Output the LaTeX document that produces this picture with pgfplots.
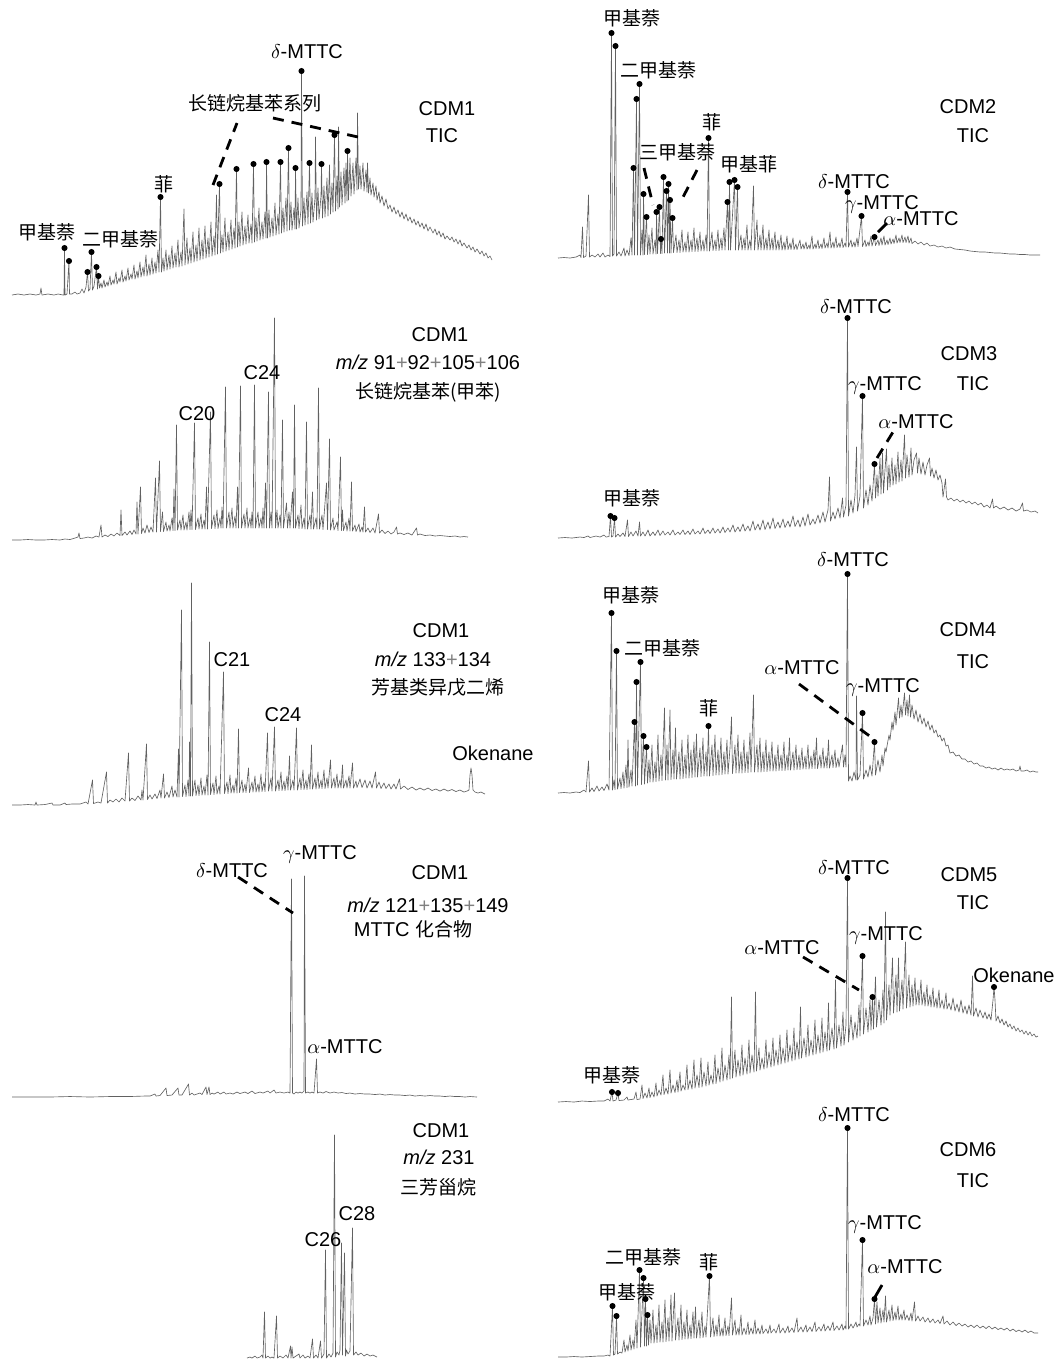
\documentclass[border=0pt]{standalone}
\usepackage{pgfplots}
\pgfplotsset{compat=1.18}
\usepackage{fontspec}
\setmainfont{Liberation Sans}
\newfontfamily\cjk[Scale=0.95]{Noto Sans CJK SC}
\pgfplotsset{
  tr/.style={black!62, line width=0.32pt, line join=round, mark=none},
  dots/.style={only marks, mark=*, mark size=1.3pt, black},
  dsh/.style={black, line width=1.4pt, dash pattern=on 5.5pt off 4pt, mark=none},
  sld/.style={black, line width=1.4pt, mark=none},
}
\newcommand{\pl}{{\color{gray}+}}
\begin{document}
\begin{tikzpicture}
\begin{axis}[x=0.5pt, y=0.5pt, xmin=0, xmax=1056, ymin=0, ymax=1360, y dir=reverse,
  hide axis, clip=false, anchor=north west, at={(0,0)},
  every node/.style={inner sep=0pt, font=\fontsize{8.3}{10}\selectfont}]
% ---------------- L1 CDM1 TIC
\addplot[tr] coordinates {(12,295)(18,294)(24,295)(30,294)(36,295)(40,294)(41,288)(42,295)(48,294)(54,295)(58,294)(63,295)(64,295)(64.5,248)(65,295)(67,294)(69,261)(69.5,294)(72,294)(75,292)(77,294)(80,293)(82,289)(84,293)(86,287)(87.5,272)(88.5,291)(90,289)(91.5,252)(92.5,290)(94,286)(96.5,267)(97.5,289)(98.5,276)(99.5,288)(101,283)(102,288)(104,280)(105,287)(107,282)(108,286)(110,276)(111,285)(113,280)(114,284)(116,272)(117,284)(119,278)(120,282)(122,270)(123,282)(125,276)(126,281)(128,268)(129,280)(131,274)(132,279)(134,265)(135,279)(137,271)(138,278)(140,262)(141,277)(143,267)(144,276)(146,255)(147,276)(149,264)(150,275)(152,258)(153,274)(155,262)(156,273)(158,250)(159,272)(160.5,197)(161.5,272)(163,258)(164,271)(166,250)(167,270)(169,255)(170,269)(172,246)(173,268)(175,253)(176,267)(178,240)(179,267)(181,252)(182,266)(184,209)(185,265)(187,238)(188,264)(190,248)(191,263)(193,232)(194,262)(196,245)(197,261)(199,228)(200,260)(202,240)(203,259)(205,226)(206,258)(208,238)(209,257)(211,222)(212,256)(214,236)(215,255)(216.5,195)(217.5,254)(219.5,184)(220.5,253)(222,235)(223,252)(225,218)(226,251)(228,232)(229,250)(231,220)(232,249)(234,228)(235,248)(236.5,169)(237.5,247)(239,222)(240,246)(242,212)(243,245)(245,226)(246,244)(248,215)(249,243)(251,224)(252,243)(253.5,164)(254.5,242)(256,218)(257,241)(259,208)(260,240)(262,222)(263,239)(265,212)(266,238)(266.5,162)(267.5,238)(269,210)(270,237)(272,218)(273,236)(275,203)(276,235)(278,214)(279,234)(280.5,162)(281.5,233)(283,208)(284,232)(286,198)(287,231)(288.5,148)(289.5,230)(291,202)(292,230)(294,208)(295,229)(295.5,168)(296.5,229)(298,198)(299,228)(301,210)(301.5,71)(302.5,226)(304,198)(305,225)(307,192)(308,224)(309.5,163)(310.5,223)(312,193)(313,222)(315,198)(315.5,137)(316.5,220)(318,188)(319,219)(321,196)(321.5,164)(322.5,218)(324,186)(325,217)(327,178)(328,216)(329.5,165)(330.5,214)(332,183)(333,212)(334.5,135)(335.5,211)(337,176)(338,209)(338.5,127)(339.5,207)(341,172)(342,205)(344,168)(345,203)(346,163)(347,201)(347.5,151)(348.5,200)(350,158)(351,196)(353,163)(354,194)(356,158)(357,190)(357.5,113)(358.5,189)(360,166)(361,189)(363,163)(364,191)(366,170)(367,192)(367.5,163)(368.5,193)(370,178)(371,195)(373,183)(374,197)(376,186)(377,200)(379,192)(380,203)(382,196)(384,206)(386,199)(388,209)(390,205)(392,212)(394,207)(396,214)(398,210)(400,217)(402,212)(404,219)(406,214)(408,221)(410,217)(412,223)(414,219)(416,225)(418,221)(420,227)(422,223)(424,229)(426,224)(428,231)(430,227)(433,233)(435,229)(437,235)(439,231)(441,237)(443,233)(445,239)(447,236)(450,240)(452,237)(454,242)(456,239)(458,244)(460,240)(462,246)(464,243)(467,248)(469,245)(471,250)(473,247)(475,252)(477,249)(480,254)(482,251)(484,256)(486,253)(488,258)(490,256)(492,260)};
\addplot[dots] coordinates {(64.5,248)(69,261)(87.5,272)(91.5,252)(96.5,267)(98.5,276)(160.5,197)(219.5,184)(236.5,169)(253.5,164)(266.5,162)(280.5,162)(288.5,148)(295.5,168)(309.5,163)(321.5,164)(334.5,135)(347.5,151)(301.5,71)};
\addplot[dsh] coordinates {(213,185)(237,123)};
\addplot[dsh] coordinates {(273,118)(358,137)};
\node at (axis cs:307,52) {$\delta$-MTTC};
\node at (axis cs:255,103) {\cjk 长链烷基苯系列};
\node at (axis cs:447,109) {CDM1};
\node at (axis cs:442,136) {TIC};
\node at (axis cs:164,184) {\cjk 菲};
\node at (axis cs:47,232) {\cjk 甲基萘};
\node at (axis cs:120,239) {\cjk 二甲基萘};
% ---------------- L2
\addplot[tr] coordinates {(12,540)(20,540)(28,539.5)(36,540)(44,540)(52,539.5)(60,540)(65,539)(70,539.5)(75,538)(78,537)(79,533)(80,538.5)(84,538)(88,537)(92,538)(96,536)(99,537)(101,525)(102,537)(105,535)(108,536.5)(111,534)(114,536)(117,533)(120,535.5)(121,510)(122,535.5)(125,532)(127,535)(130,531)(132,534.5)(134,530)(136,534)(137,502)(138,534)(140.5,487)(141.5,533.5)(143,528)(145,533)(147,525)(149,532.5)(151,527)(153,532)(155.5,478)(156.5,532)(159.5,461)(160.5,531.5)(162.5,512)(163.5,531.5)(166,522)(167,531)(169,525)(170,531)(172,518)(173,530.5)(174,489)(175,530.5)(176.5,425)(177.5,530)(180,520)(181,530)(183,515)(184,530)(186,522)(187,530)(189,512)(190,529.5)(191,510)(192,529.5)(194.5,423)(195.5,529.5)(198,518)(199,529)(201,514)(202,529)(204,520)(205,529)(206.5,487)(207.5,529)(210.5,412)(211.5,528.5)(214,515)(215,528.5)(217,510)(218,528.5)(220,518)(221,528)(222,507)(223,528)(225.5,387)(226.5,528)(229,512)(230,528)(232,508)(233,528)(235,516)(236,528)(237.5,487)(238.5,528)(240.5,386)(241.5,528)(244,514)(245,528)(247,508)(248,528)(250,518)(251,528)(252,512)(253,528)(254.5,385)(255.5,528)(258,512)(259,528)(261,518)(262,528)(263,508)(264,528)(265.5,483)(266.5,528)(268.5,392)(269.5,528)(271,512)(272,528)(274.5,318)(275.5,528)(277,510)(278,528)(280,515)(281,528)(282.5,420)(283.5,528)(286.5,503)(287.5,528)(289,512)(290,528)(292.5,492)(293.5,528)(294.5,405)(295.5,528)(298,515)(299,528.5)(301,505)(302,528.5)(304,518)(305,529)(306.5,422)(307.5,529)(310,515)(311,529)(312.5,492)(313.5,529)(316,518)(317,529)(318.5,388)(319.5,529)(322,515)(323,529.5)(326.5,483)(327.5,529.5)(329.5,439)(330.5,530)(333,518)(334,530)(337,522)(338,530.5)(340.5,457)(341.5,530.5)(342.5,510)(343.5,530.5)(346,522)(347,531)(349,518)(350,531)(351.5,482)(352.5,531)(355,525)(356,531.5)(359,524)(360,532)(362,527)(363,532)(364.5,507)(365.5,532)(368,528)(370,532.5)(373,528)(375,533)(378.5,514)(379.5,533)(382,530)(385,533.5)(388,531)(391,534)(394,532)(396.5,527)(397.5,534)(400,533)(404,534.5)(408,533)(412,535)(416.5,528)(417.5,535)(420,534)(425,535.5)(430,535)(435,536)(440,535.5)(445,536)(450,536.5)(455,536)(460,537)(464,536.5)(468,537)};
\node at (axis cs:440,335) {CDM1};
\node at (axis cs:428,362) {\textit{m/z} 91\pl92\pl105\pl106};
\node at (axis cs:428,392) {\cjk 长链烷基苯(甲苯)};
\node at (axis cs:197,414) {C20};
\node at (axis cs:262,373) {C24};
% ---------------- L3
\addplot[tr] coordinates {(12,805)(20,805)(28,804.5)(35,805)(36,802)(37,805)(45,804.5)(52,803)(53,805)(60,805)(65,803)(66,804.5)(72,804)(80,804)(86,802)(88,804)(92.5,780)(93.5,803.5)(98,802)(101,803)(106.5,772)(107.5,803)(110,800)(113,802)(116,799)(119,802)(122,798)(125,801)(128.5,753)(129.5,801)(132,798)(135,800.5)(138,796)(141,800)(142,790)(143,800)(146.5,744)(147.5,799.5)(150,795)(152,799)(155,794)(157,798.5)(160,790)(161,798)(163.5,774)(164.5,798)(167,792)(169,797.5)(172,786)(173,797)(175,790)(177,797)(178.5,749)(179,797)(181.5,610)(182.5,796.5)(185,785)(186,796.5)(188,780)(189,796)(189.5,742)(190.5,796)(191.5,583)(192.5,796)(195,780)(196,795.5)(198,785)(199,795.5)(201,778)(202,795)(204,786)(205,795)(207,775)(208,795)(209.5,642)(210.5,794.5)(213,783)(214,794.5)(216,776)(217,794)(219,786)(220,794)(223.5,672)(224.5,793.5)(227,782)(228,793.5)(230,775)(231,793)(233,785)(234,793)(236,778)(237,793)(238.5,729)(239.5,792.5)(242,780)(243,792.5)(245,784)(246,792.5)(248.5,768)(249.5,792.5)(252,782)(253,792)(255,776)(256,792)(258,784)(259,792)(261,774)(262,791.5)(264,782)(265,791.5)(267.5,733)(268.5,791)(271,778)(272,791)(274.5,727)(275.5,791)(278,780)(279,790.5)(281,772)(282,790.5)(284,781)(285,790.5)(287,776)(288,790)(289.5,756)(290.5,790)(293,780)(294,790)(296.5,728)(297.5,790)(300,778)(301,789.5)(303,770)(304,789.5)(306,780)(307,789.5)(309,774)(310,789)(311.5,745)(312.5,789)(315,778)(316,789)(318,772)(319,788.5)(321,780)(322,788.5)(324,770)(325,788.5)(327,778)(328,788)(330.5,760)(331.5,788)(334,778)(335,788)(337,774)(338,788)(340,780)(341,788)(342.5,765)(343.5,788)(346,780)(347,788)(349,776)(350,788)(352.5,763)(353.5,788)(356,781)(357,787.5)(360,779)(362,787.5)(365,780)(367,788)(370,781)(372,788)(375.5,772)(376.5,788)(379,782)(381,788.5)(384,783)(386,788.5)(389,784)(391,789)(394,784)(396,789)(399.5,779)(400.5,789)(404,786)(408,789.5)(412,787)(416,790)(420,788)(424,790)(428,788)(432,790.5)(436,789)(440,791)(444,789)(448,791)(452,789.5)(456,791.5)(460,790)(464,792)(467,791)(469,790)(470,775)(471,768)(472,775)(473,790)(475,792)(478,793)(481,792)(485,794)};
\node at (axis cs:441,631) {CDM1};
\node at (axis cs:433,659) {\textit{m/z} 133\pl134};
\node at (axis cs:438,687) {\cjk 芳基类异戊二烯};
\node at (axis cs:232,660) {C21};
\node at (axis cs:283,715) {C24};
\node at (axis cs:493,753) {Okenane};
% ---------------- L4
\addplot[tr] coordinates {(12,1097)(30,1097)(50,1097)(70,1096.5)(90,1097)(110,1096.5)(130,1096.5)(145,1096)(150,1096)(155,1094)(156,1096)(160,1095.5)(166,1088)(167,1095.5)(172,1095)(178,1088)(179,1095)(182,1095)(188.5,1084)(189.5,1095)(192,1093)(194,1095)(200,1093)(202,1094.5)(206,1087)(207,1094.5)(209,1087)(210,1094.5)(212,1093)(214,1094)(218,1092)(220,1094)(224,1092)(226,1094)(230,1093)(233,1094)(237,1092)(240,1093.5)(245,1092)(248,1093.5)(252,1091)(255,1093.5)(260,1092)(263,1093)(268,1091)(270,1093)(274,1090)(276,1093)(280,1092)(284,1093)(288,1092)(290,1093)(291.5,879)(292.5,1093)(294,1094)(296,1092)(298,1093)(300,1092)(302,1093)(304,1091)(304.5,876)(305.5,1093)(308,1092)(310,1093)(312,1092)(314,1093)(316.5,1059)(317.5,1093)(320,1092)(323,1093)(326,1091.5)(330,1093)(334,1092)(338,1093)(342,1092.5)(346,1093.5)(350,1093)(355,1094)(360,1093.5)(365,1094)(370,1094)(375,1094.5)(380,1094)(385,1095)(390,1094.5)(395,1095)(400,1095)(405,1095.5)(410,1095)(415,1096)(420,1095.5)(425,1096)(430,1095.5)(435,1096)(440,1096)(445,1096.5)(450,1096)(455,1096.5)(460,1096.5)(465,1097)(470,1096.5)(477,1097)};
\addplot[dsh] coordinates {(238,877)(293,913)};
\node at (axis cs:232,871) {$\delta$-MTTC};
\node at (axis cs:320,854) {$\gamma$-MTTC};
\node at (axis cs:440,873) {CDM1};
\node at (axis cs:428,905) {\textit{m/z} 121\pl135\pl149};
\node at (axis cs:413,929) {MTTC {\cjk 化合物}};
\node at (axis cs:345,1047) {$\alpha$-MTTC};
% ---------------- L5
\addplot[tr] coordinates {(247,1358)(250,1357)(252,1358)(255,1356)(257,1358)(260,1357)(262,1355)(263,1358)(264.5,1312)(265.5,1358)(268,1356)(270,1358)(272,1357)(274,1358)(276.5,1316)(277.5,1358)(280,1356)(283,1358)(286,1355)(288,1358)(290.5,1346)(291,1358)(292,1347)(293,1358)(296,1356)(299,1354)(300,1358)(303,1355)(305,1358)(308,1356)(310,1358)(312.5,1339)(313.5,1358)(316,1355)(318,1358)(320.5,1341)(321.5,1358)(324,1354)(325.5,1250)(326.5,1358)(329,1354)(331,1357)(333,1353)(334.5,1135)(335.5,1357)(337,1352)(339,1355)(340,1350)(341.5,1243)(342.5,1355)(344.5,1253)(345.5,1356)(346.5,1350)(348,1354)(350,1351)(352.5,1228)(353.5,1355)(356,1352)(358,1355)(361,1353)(364,1356)(367,1354)(370,1356)(373,1355)(377,1357)};
\node at (axis cs:441,1131) {CDM1};
\node at (axis cs:439,1157) {\textit{m/z} 231};
\node at (axis cs:438,1187) {\cjk 三芳甾烷};
\node at (axis cs:357,1214) {C28};
\node at (axis cs:323,1240) {C26};
% ---------------- R1 CDM2
\addplot[tr] coordinates {(558,258)(564,257.5)(570,258)(576,257)(580,255)(581,257.5)(582.5,227)(583.5,257.5)(586,256)(588.5,195)(589.5,257)(592,255)(595,257)(598,254)(600,257)(603,253)(605,257)(608,255)(610,256.5)(611.5,33)(612.5,256)(614,254)(615.5,46)(616.5,256)(619,252)(621,256)(624,248)(625,256)(627,250)(629,255.5)(631,238)(632,255)(633.5,168)(634.5,255)(636.5,99)(637.5,255)(639.5,84)(640.5,255)(642,230)(643,255)(643.5,194)(644.5,254.5)(646.5,217)(647.5,254.5)(649,235)(650,254)(652,228)(653,254)(655,240)(656,254)(656.5,212)(657.5,253.5)(659.5,207)(660.5,253.5)(661,239)(662,253.5)(663.5,177)(664.5,253)(666.5,191)(667.5,253)(668.5,184)(669.5,253)(670,200)(671,253)(672.5,218)(673.5,252.5)(676,235)(677,252.5)(679,240)(680,252.5)(682,230)(683,252)(685,242)(686,252)(688,232)(689,252)(691,240)(692,251.5)(694,228)(695,251.5)(697,238)(698,251.5)(700,232)(701,251)(703,240)(704,251)(706,235)(707,251)(708.5,138)(709.5,251)(712,232)(713,250.5)(715,240)(716,250.5)(718,230)(719,250.5)(721,238)(722,250)(724,228)(725,250)(727.5,202)(728.5,250)(729.5,182)(730.5,250)(734.5,180)(735.5,250)(737.5,187)(738.5,250)(741,235)(742,250)(744,238)(745,250)(747,225)(748,250)(750,240)(751,250)(753.5,186)(754.5,250)(757,220)(758,250)(760,235)(761,250)(763,225)(764,250)(766,238)(767,250)(769,230)(770,250)(772,238)(773,250)(775,232)(776,250)(778,240)(779,250)(781,235)(782,250)(784,242)(785,250)(787,236)(788,249.5)(790,243)(791,249.5)(793,238)(794,249.5)(796,244)(797,249.5)(800,240)(801,249)(803,244)(804,249)(806,242)(807,249)(809,245)(810,249)(812,236)(813,249)(815,244)(816,248.5)(818,240)(819,248.5)(821,244)(822,248.5)(824,238)(825,248)(827,243)(828,248)(830,232)(831,248)(833,242)(834,248)(836,237)(837,247.5)(839,243)(840,247.5)(842,238)(843,247.5)(845,243)(846,247)(847.5,192)(848.5,247)(851,240)(852,247)(854,242)(855,247)(857,238)(858,246.5)(861.5,216)(862.5,246.5)(865,240)(866,246.5)(868,242)(869,246)(871,236)(872,246)(874.5,237)(875.5,245.5)(878,240)(879,245.5)(881,238)(882,245)(884,236)(885,245)(887,240)(888,244.5)(890,238)(891,244)(893,239)(894,243.5)(896,235)(897,243)(899,238)(900,242.5)(902,235)(903,242.5)(905,237)(906,242.5)(908,236)(909,243)(911,238)(912,243.5)(915,241)(918,244)(921,242)(924,245)(927,243)(930,246)(934,245)(938,247)(942,246)(946,248)(950,247)(955,249)(960,249.5)(965,250)(970,251)(975,251.5)(980,252)(985,252)(990,252.5)(995,253)(1000,253)(1005,253.5)(1010,254)(1015,254)(1020,254.5)(1025,254.5)(1030,255)(1035,255)(1040,255)};
\addplot[dots] coordinates {(611.5,33)(615.5,46)(639.5,84)(636.5,99)(633.5,168)(643.5,194)(646.5,217)(656.5,212)(659.5,207)(663.5,177)(668.5,184)(666.5,191)(670,200)(661,239)(672.5,218)(708.5,138)(729.5,182)(734.5,180)(737.5,187)(727.5,202)(847.5,192)(861.5,216)(874.5,237)};
\addplot[dsh] coordinates {(644,168)(653,205)};
\addplot[dsh] coordinates {(697,170)(680,203)};
\addplot[sld] coordinates {(878,232)(887,223)};
\node at (axis cs:632,18) {\cjk 甲基萘};
\node at (axis cs:658,70) {\cjk 二甲基萘};
\node at (axis cs:712,122) {\cjk 菲};
\node at (axis cs:677,152) {\cjk 三甲基萘};
\node at (axis cs:749,164) {\cjk 甲基菲};
\node at (axis cs:968,107) {CDM2};
\node at (axis cs:973,136) {TIC};
\node at (axis cs:854,182) {$\delta$-MTTC};
\node at (axis cs:882,204) {$\gamma$-MTTC};
\node at (axis cs:921,219) {$\alpha$-MTTC};
% ---------------- R2 CDM3
\addplot[tr] coordinates {(558,538)(565,537.5)(572,538)(580,537)(584,537.5)(588,536)(590,537.5)(596,536)(600,537)(604,535)(606,537)(609,536.5)(610.5,516)(611.5,537)(613,536)(614.5,518)(615.5,537)(618,534)(620,536.5)(623,533)(625,536.5)(627.5,520)(628.5,536.5)(631,532)(633,536)(636,531)(638,536)(639.5,522)(640.5,536)(643,532)(645,536)(648,530)(650,536)(653,532)(655,535.5)(658,530)(660,535.5)(663,531)(665,535)(668,532)(670,535)(673,530)(675,535)(678,532)(680,534.5)(683,530)(685,534.5)(688,531)(690,534.5)(693,529)(695,534)(698,531)(700,534)(703,528)(705,533.5)(708,530)(710,533.5)(713,528)(715,533)(718,529)(720,533)(723,527)(725,532.5)(728,528)(730,532)(733,525)(735,532)(738,527)(740,531.5)(743,524)(745,531)(748,526)(750,531)(753,521)(755,530)(758,524)(760,530)(763,520)(765,529.5)(768,522)(770,529)(773,518)(775,528.5)(778,522)(780,528)(783,519)(785,527.5)(788,521)(790,527)(793,516)(795,526.5)(798,520)(800,527)(803,517)(805,526)(808,514)(810,525)(813,519)(815,524)(818,515)(820,523)(823,512)(825,522)(828,510)(829.5,477)(830.5,521)(833,512)(835,519)(838,508)(840,518)(842.5,498)(843.5,517)(846,505)(847.5,318)(848.5,516)(851,500)(853,513)(855,495)(856.5,447)(857.5,511)(860,496)(862.5,396)(863.5,508)(866,490)(868,505)(870,485)(872,501)(874.5,464)(875.5,498)(877,475)(878,496)(880,458)(881,494)(882.5,453)(883.5,493)(885,470)(886.5,449)(887.5,490)(889,465)(890,487)(892,458)(893,485)(895,465)(896,484)(898,452)(899,482)(901,460)(902,481)(904.5,435)(905.5,478)(907,455)(909,477)(911,448)(912,475)(914,460)(916.5,453)(917.5,473)(919,458)(921,474)(923,462)(925,475)(927,465)(929.5,458)(930.5,476)(932,468)(934,478)(936,470)(938,480)(940,475)(942,483)(943,497)(945.5,479)(946.5,497)(948,500)(951,498)(954,501)(957,499)(960,502)(963,500)(966,503)(969,501)(972,504)(975,502)(978,505)(981,503)(984,507)(987,505)(990,508)(992.5,499)(993.5,508)(996,506)(1000,509)(1004,507)(1008,510)(1012,508)(1016,511)(1020,509)(1022.5,503)(1023.5,511)(1027,510)(1031,512)(1035,511)(1038,513)};
\addplot[dots] coordinates {(610.5,516)(614.5,518)(847.5,318)(862.5,396)(874.5,464)};
\addplot[dsh] coordinates {(877,458)(893,432)};
\node at (axis cs:856,307) {$\delta$-MTTC};
\node at (axis cs:969,354) {CDM3};
\node at (axis cs:973,384) {TIC};
\node at (axis cs:885,385) {$\gamma$-MTTC};
\node at (axis cs:916,422) {$\alpha$-MTTC};
\node at (axis cs:632,498) {\cjk 甲基萘};
% ---------------- R3 CDM4
\addplot[tr] coordinates {(558,793)(564,792.5)(570,793)(576,792)(580,792.5)(584,790)(586,792)(588.5,761)(589.5,792)(592,788)(594,791.5)(597,786)(599,791)(602,787)(604,790.5)(607,784)(609,790)(611.5,613)(612.5,790)(614,780)(615,789.5)(616.5,651)(617.5,789)(620,778)(621,788.5)(623,772)(624,788)(626,765)(627,787.5)(628,740)(629,787)(631,770)(632,786)(634.5,722)(635.5,786)(636.5,682)(637.5,785)(640.5,662)(641.5,784.5)(643.5,736)(644.5,784)(646.5,747)(647.5,783)(649,760)(650,782)(652,745)(653,782)(655,762)(656,781.5)(658,735)(659,781)(661,755)(662,780.5)(664.5,708)(665.5,780)(667,745)(668,780)(670,710)(671,779.5)(673,750)(674,779)(675.5,728)(676.5,779)(679,752)(680,779)(682,740)(683,778.5)(685,755)(686,778)(688,735)(689,778)(691,750)(692,777.5)(694,742)(695,777)(696.5,734)(697.5,777)(700,748)(701,776.5)(703,738)(704,776)(706,752)(707,776)(708.5,726)(709.5,776)(712,745)(713,775.5)(715,735)(716,775)(718,750)(719,775)(721,738)(722,774.5)(724,752)(725,774)(727,740)(728,774)(730,748)(731.5,717)(732.5,773.5)(735,745)(736,773)(738,735)(739,773)(741,752)(742,773)(744,740)(745,772.5)(747,752)(748,772.5)(750,733)(751,772)(753.5,695)(754.5,772)(757,745)(758,772)(760,738)(761,772)(763,752)(764,771.5)(766,740)(767,771.5)(769,752)(770,771)(772,742)(773,771)(775,755)(776,771)(778,745)(779,770.5)(781,755)(782,770.5)(784,742)(785,770.5)(787,755)(788,770)(789.5,738)(790.5,770)(793,752)(794,770)(796,745)(797,769.5)(799,755)(800,769.5)(802,748)(803,769)(805,756)(806,769)(808,745)(809,769)(811,756)(812,768.5)(814,750)(815,768.5)(816.5,738)(817.5,768.5)(820,755)(821,768)(823,748)(824,768)(826,756)(827,768)(828.5,740)(829.5,768)(832,755)(833,767.5)(835,750)(836,767.5)(838,758)(839,767)(842.5,745)(843.5,767)(845,755)(846,767)(847.5,574)(848.5,781)(850,776)(852,781)(854,772)(856,780)(856.5,696)(857.5,780)(860,775)(862.5,713)(863.5,779)(866,770)(868,777)(870,765)(872,776)(874.5,742)(875.5,775)(878,760)(880,772)(882,755)(883,766)(885,748)(886,752)(887,746)(889,735)(890,740)(892,722)(893,730)(895,712)(896,725)(898.5,698)(899.5,718)(901,705)(902,717)(904.5,693)(905.5,715)(907,700)(908,716)(909.5,695)(910.5,717)(912,705)(914,719)(916,710)(918,722)(920,714)(922,724)(924,718)(926,727)(928,721)(930,730)(932,725)(934,733)(936,730)(938,737)(940,735)(942,741)(944,738)(946,746)(948,745)(950,753)(953,752)(956,756)(959,755)(962,759)(965,759)(968,762)(971,761)(974,764)(977,763)(980,766)(983,766)(986,768)(989,767)(992,769)(995,768)(998,770)(1001,768)(1004,770)(1007,769)(1010,770)(1013,769)(1016,771)(1019,770)(1020,766)(1021,771)(1024,771)(1027,770)(1030,772)(1033,771)(1036,772)(1038,772)};
\addplot[dots] coordinates {(611.5,613)(616.5,651)(640.5,662)(636.5,682)(634.5,722)(643.5,736)(646.5,747)(708.5,726)(847.5,574)(862.5,713)(874.5,742)};
\addplot[dsh] coordinates {(799,684)(875,740)};
\node at (axis cs:853,560) {$\delta$-MTTC};
\node at (axis cs:631,595) {\cjk 甲基萘};
\node at (axis cs:662,648) {\cjk 二甲基萘};
\node at (axis cs:709,708) {\cjk 菲};
\node at (axis cs:802,668) {$\alpha$-MTTC};
\node at (axis cs:883,687) {$\gamma$-MTTC};
\node at (axis cs:968,630) {CDM4};
\node at (axis cs:973,662) {TIC};
% ---------------- R4 CDM5
\addplot[tr] coordinates {(558,1102)(566,1101.5)(574,1102)(582,1101)(590,1101.5)(598,1101)(604,1101)(608,1099)(610,1101)(612,1092)(613,1101)(616,1100)(618,1093)(619,1100.5)(624,1100)(627,1097)(628,1100)(634,1099)(636,1092)(637,1099.5)(640,1099)(642,1085)(643,1098.5)(645,1093)(647,1098)(649,1088)(650,1097.5)(652,1092)(654,1097)(656,1083)(657,1096)(659,1090)(661,1095)(663,1075)(664,1094.5)(666,1088)(668,1094)(670,1070)(671,1093)(673,1085)(675,1092.5)(677,1080)(678,1092)(680,1072)(681,1091)(683,1085)(685,1090)(687,1065)(688,1089.5)(690,1080)(692,1089)(694,1060)(695,1088)(697,1075)(699,1087.5)(701,1058)(702,1087)(704,1072)(706,1086)(708,1062)(709,1085)(711,1075)(713,1084)(715,1055)(716,1083.5)(718,1068)(720,1082)(722,1048)(723,1081)(725,1065)(727,1080)(729,1055)(730,1079)(731.5,997)(732.5,1078)(735,1050)(736,1077)(738,1060)(740,1076)(742,1045)(743,1075)(745,1058)(747,1074)(749,1040)(750,1073)(752,1055)(754,1072)(755.5,992)(756.5,1071)(759,1048)(760,1070)(762,1058)(764,1069)(766,1040)(767,1068)(769,1052)(771,1067)(773,1038)(774,1066)(776,1050)(778,1065)(780,1035)(781,1064)(783,1048)(785,1063)(787,1030)(788,1062)(790,1045)(792,1061)(794,1028)(795,1060)(797,1042)(799,1059)(800.5,1007)(801.5,1058)(804,1038)(806,1057)(808,1025)(809,1056)(811,1040)(813,1055)(815,1020)(816,1054)(818,1035)(820,1053)(822,1018)(823,1052)(825,1032)(827,1051)(828.5,1003)(829.5,1050)(832,1028)(834,1049)(835.5,980)(836.5,1048)(839,1025)(841,1046)(843,1012)(844,1045)(846,1025)(847.5,878)(848.5,1042)(851,1015)(853,1040)(855,1022)(857,1038)(859,1005)(860,1036)(862.5,956)(863.5,1034)(866,1008)(868,1032)(870,1000)(871,1030)(872.5,997)(873.5,1029)(875.5,977)(876.5,1027)(879,1000)(881,1025)(883,990)(884,1023)(885.5,912)(886.5,1020)(889,985)(890,1015)(892.5,958)(893.5,1013)(896,975)(897,1012)(898.5,958)(899.5,1011)(902,980)(903,1009)(905.5,942)(906.5,1008)(909,975)(910,1007)(912,985)(913,1006)(915,978)(916,1005)(918,990)(919,1005)(921,980)(922,1005)(924,992)(925,1006)(927,985)(928,1006)(930,995)(931,1007)(933,988)(934,1007)(936,998)(937,1008)(939,990)(940,1008)(942,1000)(944,1009)(946,993)(947,1009)(949,1003)(951,1010)(953,998)(955,1011)(957,1004)(959,1012)(961,1000)(963,1013)(965,1006)(967,1014)(969,1005)(971,1015)(972.5,976)(973.5,1016)(976,1008)(978,1017)(980,1010)(983,1018)(985,1012)(987,1019)(989,1014)(991,1020)(993,1000)(994,987)(995,1000)(996,1021)(998,1016)(1000,1023)(1002,1019)(1004,1025)(1006,1021)(1008,1027)(1010,1024)(1012,1029)(1014,1026)(1016,1031)(1018,1028)(1020,1032)(1022,1030)(1024,1034)(1026,1031)(1028,1035)(1030,1032)(1032,1036)(1034,1034)(1036,1037)(1038,1036)};
\addplot[dots] coordinates {(612,1092)(618,1093)(847.5,878)(862.5,956)(872.5,997)(994,987)};
\addplot[dsh] coordinates {(803,957)(859,990)};
\node at (axis cs:854,868) {$\delta$-MTTC};
\node at (axis cs:969,875) {CDM5};
\node at (axis cs:973,903) {TIC};
\node at (axis cs:886,935) {$\gamma$-MTTC};
\node at (axis cs:782,948) {$\alpha$-MTTC};
\node at (axis cs:1014,975) {Okenane};
\node at (axis cs:612,1075) {\cjk 甲基萘};
% ---------------- R5 CDM6
\addplot[tr] coordinates {(558,1357)(566,1357)(574,1356.5)(582,1357)(590,1356.5)(598,1356)(604,1356)(608,1355)(610,1356)(612.5,1306)(613.5,1355)(615,1354)(616.5,1316)(617.5,1354)(620,1352)(622,1353)(624,1340)(625,1352)(627,1345)(628,1351)(630,1335)(631,1350)(633,1340)(634,1349)(636,1320)(637,1348)(639.5,1270)(640.5,1347)(643.5,1278)(644.5,1346)(645.5,1299)(646.5,1346)(647.5,1315)(648.5,1345)(650,1320)(651,1343)(653,1310)(654,1343)(656,1325)(657,1342.5)(659,1305)(660,1342)(662,1322)(663,1342)(665,1300)(666,1341.5)(668,1318)(669,1341)(671,1295)(672,1341)(674.5,1293)(675.5,1340)(678,1318)(679,1340)(681,1305)(682,1339.5)(684,1322)(685,1339)(687,1310)(688,1339)(690,1325)(691,1338.5)(693,1312)(694,1338)(695.5,1307)(696.5,1338)(699,1320)(700,1338)(702,1312)(703,1337.5)(705,1326)(706,1337)(709.5,1276)(710.5,1337)(713,1318)(714,1336.5)(716,1325)(717,1336)(719,1315)(720,1336)(722,1328)(723,1336)(725,1318)(726,1335.5)(728,1326)(729,1335.5)(731.5,1298)(732.5,1335)(735,1320)(736,1335)(738,1328)(739,1335)(741,1315)(742,1335)(744,1328)(746,1334.5)(748,1322)(749,1334.5)(751,1328)(753,1334)(755,1320)(756,1334)(758,1328)(760,1334)(762,1325)(763,1333.5)(766,1329)(768,1333.5)(770,1325)(771,1333)(774,1329)(776,1333)(779,1324)(780,1333)(783,1328)(785,1333)(788,1326)(789,1332.5)(792,1328)(794,1332.5)(797,1318)(798,1332)(801,1327)(803,1332)(806,1325)(807,1332)(810,1327)(812,1331.5)(815,1322)(816,1331.5)(819,1327)(821,1331)(824,1324)(825,1331)(828,1326)(830,1330.5)(833,1322)(834,1330.5)(837,1326)(839,1330)(842,1324)(843,1330)(845,1326)(846,1329)(847.5,1128)(848.5,1329)(851,1324)(853,1328)(856,1322)(857,1327)(859,1324)(860,1326)(862.5,1240)(863.5,1326)(866,1320)(868,1325)(870,1316)(871,1325)(873,1318)(874.5,1299)(875.5,1324)(877,1302)(878,1323)(880,1308)(881,1323)(883,1310)(884,1322)(885.5,1296)(886.5,1322)(889,1310)(890,1321)(892,1305)(893,1320.5)(895,1312)(896,1320)(898,1306)(899,1320)(901,1314)(902,1320)(904,1310)(905,1320)(907,1315)(909,1320.5)(911,1313)(912,1321)(914.5,1302)(915.5,1321)(918,1316)(920,1321)(923,1317)(925,1322)(928,1318)(930,1322.5)(933,1319)(935,1323)(938,1320)(940,1323.5)(943,1316)(944,1324)(947,1321)(950,1325)(953,1322)(956,1325.5)(959,1323)(962,1326)(965,1324)(968,1327)(971,1325)(974,1327.5)(977,1325)(980,1328)(983,1326)(986,1328.5)(989,1326)(992,1329)(995,1327)(998,1329.5)(1001,1328)(1004,1330)(1007,1328)(1010,1331)(1013,1329)(1016,1331.5)(1019,1330)(1022,1332)(1025,1330)(1028,1332.5)(1031,1331)(1034,1333)(1038,1333)};
\addplot[dots] coordinates {(612.5,1306)(616.5,1316)(639.5,1270)(643.5,1278)(645.5,1299)(647.5,1315)(709.5,1276)(847.5,1128)(862.5,1240)(874.5,1299)};
\addplot[sld] coordinates {(875,1297)(882,1285)};
\node at (axis cs:854,1115) {$\delta$-MTTC};
\node at (axis cs:968,1150) {CDM6};
\node at (axis cs:973,1181) {TIC};
\node at (axis cs:885,1224) {$\gamma$-MTTC};
\node at (axis cs:905,1267) {$\alpha$-MTTC};
\node at (axis cs:643,1257) {\cjk 二甲基萘};
\node at (axis cs:627,1292) {\cjk 甲基萘};
\node at (axis cs:709,1262) {\cjk 菲};
\end{axis}
\pgfresetboundingbox
\path[use as bounding box] (0,0) rectangle (528pt,-680pt);
\end{tikzpicture}
\end{document}
